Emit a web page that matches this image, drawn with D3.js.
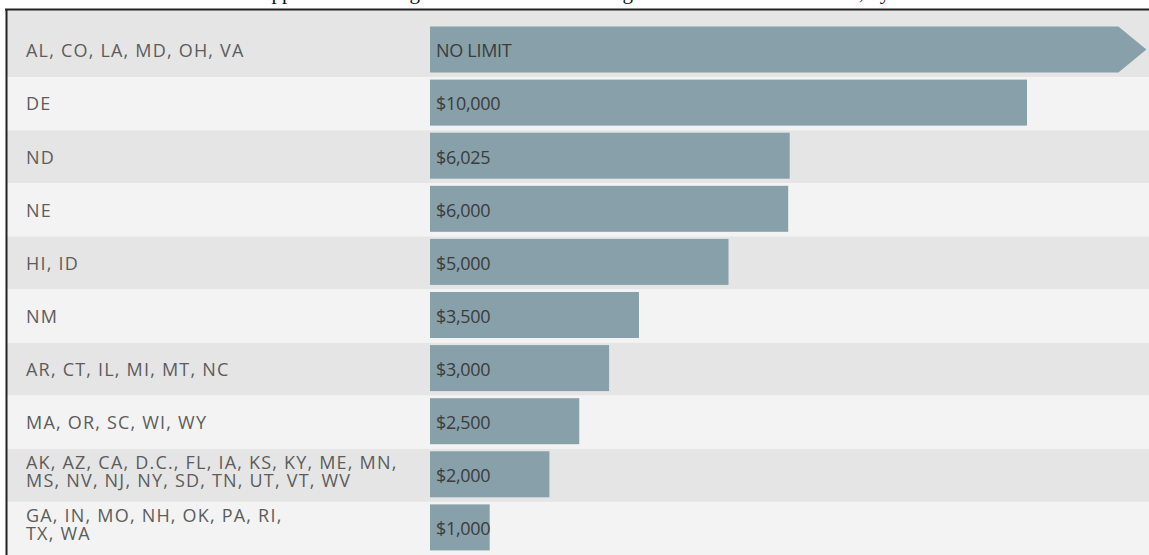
<!DOCTYPE html>
<html>
<head>
    <meta charset="utf-8">
    <title>Limits by State</title>
    <script src="https://d3js.org/d3.v7.min.js"></script>
    <style>
        body { margin: 0; background: #fff; }
    </style>
</head>
<body>
    <svg id="chart" width="1149" height="555"></svg>

    <script>
        // state groups (top to bottom), "\n" marks a line break
        var states = [
            "AL, CO, LA, MD, OH, VA",
            "DE",
            "ND",
            "NE",
            "HI, ID",
            "NM",
            "AR, CT, IL, MI, MT, NC",
            "MA, OR, SC, WI, WY",
            "AK, AZ, CA, D.C., FL, IA, KS, KY, ME, MN,\nMS, NV, NJ, NY, SD, TN, UT, VT, WV",
            "GA, IN, MO, NH, OK, PA, RI,\nTX, WA"
        ];
        // dollar limit, null = no limit
        var limits = [null, 10000, 6025, 6000, 5000, 3500, 3000, 2500, 2000, 1000];
        var valueLabels = ["NO LIMIT", "$10,000", "$6,025", "$6,000", "$5,000", "$3,500", "$3,000", "$2,500", "$2,000", "$1,000"];
        var noLimitValue = 12000;

        // title sits above the page top, only its descenders show
        var title = "Limits for Medicaid Applicants Seeking Irrevocable Trust Arrangements Excluded as Assets, by State";

        var svgWidth = 1149, svgHeight = 555;
        var svg = d3.select("#chart");

        var yScale = d3.scaleBand().domain(states).range([24, 555]);
        var xScale = d3.scaleLinear().domain([0, 10000]).range([430, 1027]);

        svg.append("text")
            .attr("x", 83).attr("y", -1)
            .attr("font-family", "Liberation Serif, Times New Roman, serif")
            .attr("font-size", 21)
            .attr("fill", "#111")
            .text(title);

        // row stripes
        svg.selectAll(".row").data(states).enter().append("rect")
            .attr("class", "row")
            .attr("x", 7)
            .attr("y", function (d, i) { return i == 0 ? 10 : yScale(d); })
            .attr("width", svgWidth - 7)
            .attr("height", function (d, i) { return i == 0 ? yScale(d) + yScale.step() - 10 : yScale.step(); })
            .attr("fill", function (d, i) { return i % 2 == 0 ? "#e5e5e5" : "#f3f3f3"; });

        // bars
        var barH = 46;
        var g = svg.append("g");
        states.forEach(function (s, i) {
            var y0 = yScale(s) + 2.5;
            var v = limits[i];
            if (v === null) {
                var tip = xScale(noLimitValue), x0 = xScale(0);
                var pts = [[x0, y0], [tip - 28, y0], [tip, y0 + barH / 2], [tip - 28, y0 + barH], [x0, y0 + barH]];
                g.append("path")
                    .attr("d", d3.line()(pts) + "Z")
                    .attr("fill", "#87a0a9");
            } else {
                g.append("rect")
                    .attr("x", xScale(0))
                    .attr("y", y0)
                    .attr("width", xScale(v) - xScale(0))
                    .attr("height", barH)
                    .attr("fill", "#87a0a9");
            }
            g.append("text")
                .attr("x", xScale(0) + 6)
                .attr("y", y0 + barH / 2 + 1.5)
                .attr("dy", "0.35em")
                .attr("font-family", "Open Sans, sans-serif")
                .attr("font-size", 18)
                .attr("letter-spacing", -0.3)
                .attr("fill", "#3c3c3c")
                .text(valueLabels[i]);
        });

        // state labels
        states.forEach(function (s, i) {
            var lines = s.split("\n");
            var cy = yScale(s) + 2.5 + barH / 2 + (lines.length > 1 ? -2.5 : 1.5);
            var t = svg.append("text")
                .attr("font-family", "Open Sans, sans-serif")
                .attr("font-size", 18)
                .attr("letter-spacing", 1.2)
                .attr("fill", "#5c5c5c");
            lines.forEach(function (line, j) {
                t.append("tspan")
                    .attr("x", 26)
                    .attr("y", cy + (j - (lines.length - 1) / 2) * 18)
                    .attr("dy", "0.35em")
                    .text(line);
            });
        });

        // frame lines on top and left
        svg.append("line").attr("x1", 5).attr("x2", svgWidth).attr("y1", 9.5).attr("y2", 9.5)
            .attr("stroke", "#222").attr("stroke-width", 2);
        svg.append("line").attr("x1", 6.5).attr("x2", 6.5).attr("y1", 9).attr("y2", svgHeight)
            .attr("stroke", "#222").attr("stroke-width", 2);
    </script>
</body>
</html>
